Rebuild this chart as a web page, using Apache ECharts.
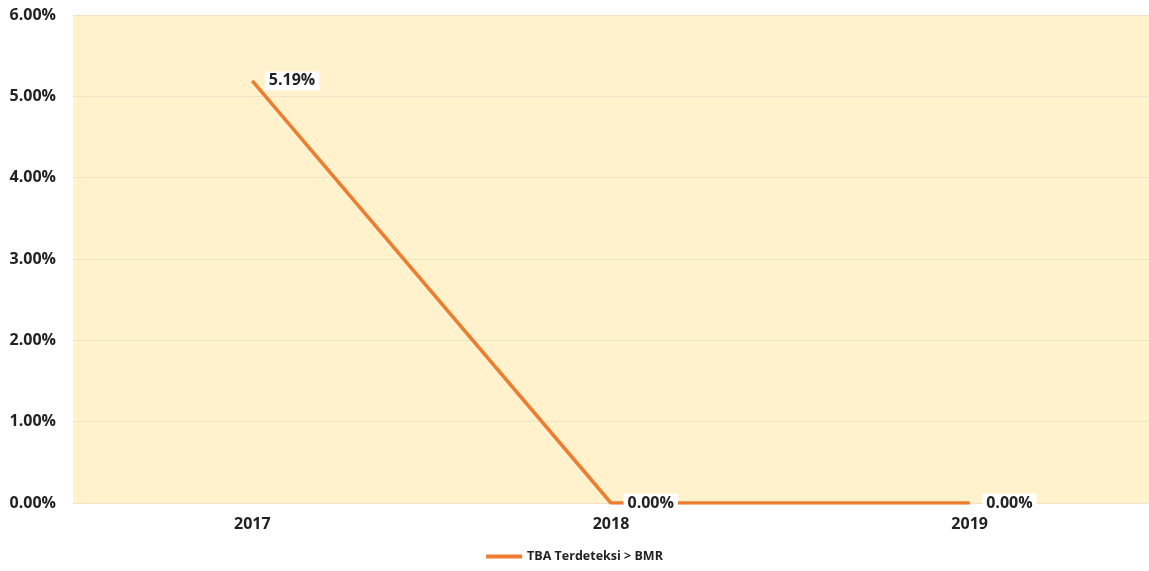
<!DOCTYPE html>
<html><head><meta charset="utf-8">
<script src="https://cdn.jsdelivr.net/npm/echarts@6/dist/echarts.min.js"></script>
<style>html,body{margin:0;padding:0;background:#fff}#c{width:1149px;height:571px}</style>
</head><body><div id="c"></div>
<script>
const categories = ['2017', '2018', '2019'];
const seriesName = 'TBA Terdeteksi > BMR';
const values = [5.19, 0.00, 0.00];
const yTicks = [0, 1, 2, 3, 4, 5, 6];

const chart = echarts.init(document.getElementById('c'));
const font = '"Open Sans", "DejaVu Sans", sans-serif';
chart.setOption({
  animation: false,
  textStyle: { fontFamily: font },
  grid: { left: 73, right: 0, top: 15, bottom: 68, show: true, backgroundColor: '#FFF2CC', borderWidth: 0 },
  xAxis: {
    type: 'category', data: categories, boundaryGap: true,
    axisLine: { show: false }, axisTick: { show: false },
    axisLabel: { color: '#222', fontWeight: 'bold', fontSize: 16, margin: 13, fontFamily: font }
  },
  yAxis: {
    type: 'value', min: yTicks[0], max: yTicks[yTicks.length - 1], interval: 1,
    axisLine: { show: false }, axisTick: { show: false },
    splitLine: { lineStyle: { color: '#F1E3C3', width: 1 } },
    axisLabel: { color: '#222', fontWeight: 'bold', fontSize: 16, margin: 17, fontFamily: font,
      formatter: v => v.toFixed(2) + '%' }
  },
  legend: {
    bottom: 3, left: 'center', itemWidth: 36, itemHeight: 4, itemGap: 6,
    icon: 'rect',
    itemStyle: { color: '#ED7D31', opacity: 1 },
    textStyle: { color: '#222', fontWeight: 'bold', fontSize: 12.5, fontFamily: font },
    data: [seriesName]
  },
  series: [{
    name: seriesName, type: 'line', data: values,
    symbol: 'circle', symbolSize: 1, showSymbol: true,
    lineStyle: { color: '#ED7D31', width: 3.5 },
    itemStyle: { color: '#ED7D31' },
    label: {
      show: true, position: 'right', distance: 12,
      formatter: p => p.value.toFixed(2) + '%',
      backgroundColor: '#fff', padding: [2, 4, 1, 4],
      color: '#222', fontWeight: 'bold', fontSize: 16, fontFamily: font
    }
  }]
});
</script></body></html>
